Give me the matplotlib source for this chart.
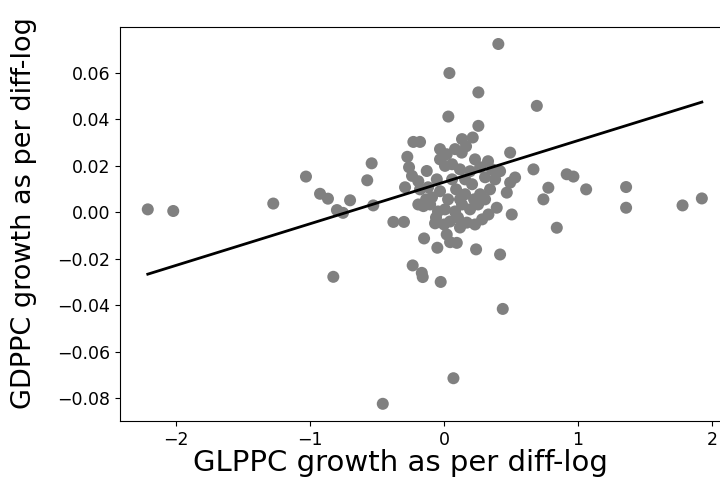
import matplotlib
matplotlib.use("Agg")
import matplotlib.pyplot as plt
import numpy as np

# GLPPC growth (x) vs GDPPC growth (y), both diff-log
glppc_growth = [
    -2.210, -2.020, -1.274, -1.030, -0.925, -0.866, -0.799, -0.754, -0.701,
    -0.573, -0.540, -0.528, -0.378, -0.299, -0.229, -0.179, -0.274, -0.261,
    -0.239, -0.291, -0.192, -0.826, -0.457, -0.234, -0.166, -0.159, -0.025,
    -0.149, -0.050, 0.020, 0.045, 0.095, 0.239, 0.418, 0.438, 0.070,
    -0.067, 0.170, 0.841, 0.405, 0.040, 0.256, 0.692, 0.032, 0.256,
    0.214, 0.493, 0.667, 0.915, 0.965, 1.060, 1.358, 1.358, 1.779,
    1.923, 0.778, 0.741, 0.530, 0.493, 0.468, 0.505, 0.331, 0.393,
    -0.154, -0.129, -0.192,
    -0.054, 0.007, 0.020, 0.082, 0.132, 0.231, 0.164, -0.030, 0.060,
    0.119, 0.194, 0.269, 0.328, 0.306, 0.381, 0.418, -0.030, 0.030,
    0.090, 0.157, 0.209, 0.269, 0.343, 0.007, 0.082, 0.134, 0.194,
    0.254, 0.045, 0.119, 0.231, 0.284, -0.090, -0.119, -0.045, 0.157,
    0.060,
    -0.104, -0.060, 0.000, 0.104, 0.306, 0.358, -0.179, -0.134, 0.134,
    0.119, 0.224, -0.030,
]
gdppc_growth = [
    0.0013, 0.0006, 0.0038, 0.0154, 0.0080, 0.0059, 0.0010, -0.0002, 0.0052,
    0.0138, 0.0211, 0.0030, -0.0041, -0.0041, 0.0303, 0.0303, 0.0239, 0.0194,
    0.0157, 0.0108, 0.0034, -0.0277, -0.0823, -0.0228, -0.0260, -0.0278, -0.0299,
    -0.0112, -0.0152, -0.0095, -0.0128, -0.0131, -0.0159, -0.0181, -0.0415, -0.0713,
    -0.0047, -0.0044, -0.0066, 0.0724, 0.0599, 0.0516, 0.0458, 0.0412, 0.0372,
    0.0322, 0.0257, 0.0185, 0.0164, 0.0154, 0.0099, 0.0109, 0.0020, 0.0030,
    0.0060, 0.0106, 0.0056, 0.0150, 0.0128, 0.0085, -0.0009, -0.0009, 0.0020,
    0.0027, 0.0178, 0.0134,
    0.0142, 0.0200, 0.0250, 0.0272, 0.0257, 0.0228, 0.0284, 0.0228, 0.0207,
    0.0185, 0.0177, 0.0194, 0.0220, 0.0151, 0.0142, 0.0177, 0.0091, 0.0056,
    0.0099, 0.0078, 0.0121, 0.0078, 0.0099, 0.0013, 0.0004, 0.0034, 0.0013,
    0.0034, -0.0039, -0.0065, -0.0052, -0.0030, 0.0065, 0.0108, 0.0004, 0.0142,
    0.0142,
    0.0034, -0.0022, -0.0052, -0.0022, 0.0056, 0.0185, 0.0099, 0.0056, 0.0315,
    0.0056, 0.0056, 0.0272,
]

# OLS fit
fit_slope = 0.0179
fit_intercept = 0.0130

x = np.array(glppc_growth)
y = np.array(gdppc_growth)

fig = plt.figure(figsize=(7.2, 4.86), dpi=100)
# right spine falls just outside the canvas, as in the cropped original
ax = fig.add_axes([0.1667, 0.1337, 0.847, 0.8107])
ax.scatter(x, y, s=75, color="grey", edgecolors="none")
xs = np.array([x.min(), x.max()])
ax.plot(xs, fit_intercept + fit_slope * xs, color="black", lw=2)

ax.set_xlim(-2.417, 2.132)
ax.set_ylim(-0.0897, 0.0797)
ax.tick_params(labelsize=12.5)
ax.set_xlabel("GLPPC growth as per diff-log", fontsize=21)
ax.set_ylabel("GDPPC growth as per diff-log", fontsize=19.5)
ax.xaxis.set_label_coords(0.459, -0.07)
ax.yaxis.set_label_coords(-0.136, 0.528)

fig.savefig("out.png", dpi=100)
